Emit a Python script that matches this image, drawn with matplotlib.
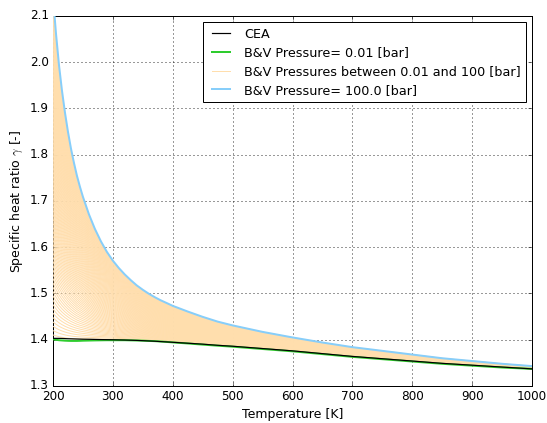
import numpy as np
import matplotlib
matplotlib.use("Agg")
import matplotlib.pyplot as plt

plt.style.use("classic")

# Temperature grid [K]
temperature = [200, 205, 210, 215, 220, 225, 230, 235, 240, 245, 250, 260, 270,
               280, 290, 300, 310, 320, 330, 340, 350, 360, 370, 380, 390, 400,
               425, 450, 475, 500, 550, 600, 650, 700, 750, 800, 850, 900, 950,
               1000]

# Ideal-gas reference (CEA)
gamma_cea = [1.4030, 1.4030, 1.4030, 1.4028, 1.4025, 1.4022, 1.4020, 1.4018,
             1.4016, 1.4014, 1.4012, 1.4010, 1.4007, 1.4004, 1.4002, 1.4000,
             1.3997, 1.3994, 1.3990, 1.3986, 1.3980, 1.3974, 1.3968, 1.3960,
             1.3953, 1.3945, 1.3925, 1.3905, 1.3880, 1.3860, 1.3810, 1.3760,
             1.3700, 1.3640, 1.3590, 1.3540, 1.3490, 1.3450, 1.3410, 1.3370]

# Beattie & Bridgeman at the lowest pressure (0.01 bar)
gamma_bv_low = [1.4010, 1.4000, 1.3990, 1.3985, 1.3980, 1.3977, 1.3975,
                1.3975, 1.3975, 1.3977, 1.3980, 1.3983, 1.3986, 1.3988,
                1.3990, 1.3990, 1.3990, 1.3990, 1.3987, 1.3984, 1.3980,
                1.3975, 1.3970, 1.3962, 1.3953, 1.3943, 1.3920, 1.3895,
                1.3872, 1.3850, 1.3800, 1.3750, 1.3690, 1.3630, 1.3580,
                1.3530, 1.3480, 1.3440, 1.3400, 1.3370]

# Beattie & Bridgeman at the highest pressure (100 bar)
gamma_bv_high = [2.1410, 2.0620, 1.9940, 1.9385, 1.8910, 1.8497, 1.8135,
                 1.7825, 1.7545, 1.7307, 1.7090, 1.6713, 1.6396, 1.6128,
                 1.5900, 1.5710, 1.5550, 1.5410, 1.5287, 1.5174, 1.5080,
                 1.4995, 1.4920, 1.4852, 1.4793, 1.4733, 1.4610, 1.4495,
                 1.4392, 1.4310, 1.4170, 1.4050, 1.3940, 1.3840, 1.3760,
                 1.3680, 1.3600, 1.3540, 1.3480, 1.3430]

p_low = 0.01
p_high = 100.0
n_pressures = 80

T = np.array(temperature)
g_low = np.array(gamma_bv_low)
g_high = np.array(gamma_bv_high)

fig = plt.figure(figsize=(547 / 72, 423 / 72), dpi=72, facecolor="white")
ax = fig.add_axes([53 / 547, 37 / 423, 479 / 547, 370 / 423])

ax.plot(T, gamma_cea, color="black", lw=1.2, label="CEA", zorder=5)
ax.plot(T, g_low, color="#2ecc2e", lw=2.0, zorder=4,
        label="B&V Pressure= %s [bar]" % p_low)

# Intermediate pressures: the B&V departure from the low-pressure curve
# grows linearly with pressure.
pressures = np.linspace(p_low, p_high, n_pressures)
for i, p in enumerate(pressures[1:-1]):
    frac = (p - p_low) / (p_high - p_low)
    ax.plot(T, g_low + frac * (g_high - g_low), color="navajowhite", lw=1.0,
            zorder=3,
            label="B&V Pressures between 0.01 and 100 [bar]" if i == 0 else None)

ax.plot(T, g_high, color="#87cefa", lw=2.0, zorder=6,
        label="B&V Pressure= %s [bar]" % p_high)

ax.set_xlim(200, 1000)
ax.set_ylim(1.3, 2.1)
ax.set_xticks(np.arange(200, 1001, 100))
ax.set_yticks(np.arange(1.3, 2.11, 0.1))
ax.set_xlabel("Temperature [K]", fontsize=12.5)
ax.set_ylabel(r"Specific heat ratio $\gamma$ [-]", fontsize=12.5)
ax.tick_params(labelsize=12)
ax.grid(True, color="black", linestyle=":", linewidth=0.8)
leg = ax.legend(loc="upper right", fontsize=12.8, frameon=True, fancybox=False,
                labelspacing=0.45)
leg.set_zorder(10)

fig.savefig("out.png", dpi=72, facecolor="white")
